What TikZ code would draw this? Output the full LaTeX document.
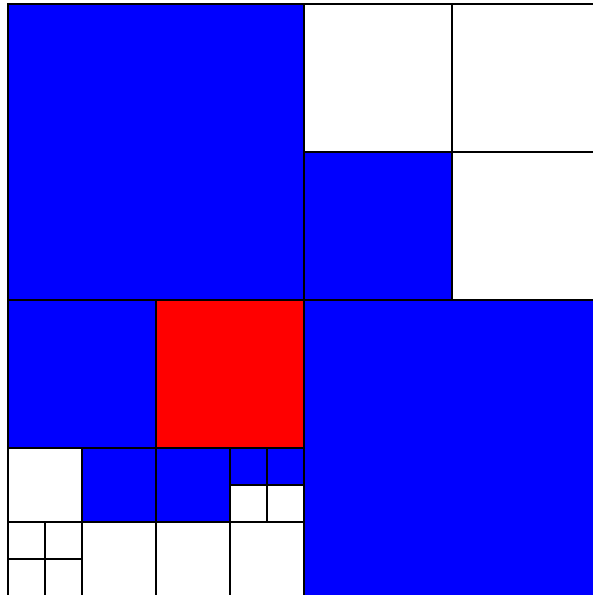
\documentclass[tikz,border=0pt]{standalone}
\usepackage{tikz}
\usepackage{xcolor}
\definecolor{cBlue}{RGB}{0,0,255}
\definecolor{cRed}{RGB}{255,0,0}
\tikzset{
	cell/.style    ={draw=black, line width=0.7pt},
	bluecell/.style={cell, fill=cBlue},
	redcell/.style ={cell, fill=cRed},
	whitecell/.style={cell, fill=white},
}

\begin{document}
\begin{tikzpicture}[x=0.74cm, y=0.74cm]
	\useasboundingbox (-0.108,0.014) rectangle (7.892,8.054);
	% first level
	\draw[bluecell] (0,4) rectangle (4,8);
	\draw[bluecell] (4,0) rectangle (8,4);
	% upper right quadrant
	\foreach \x/\y in {4/6, 6/6, 6/4} \draw[whitecell] (\x,\y) rectangle ++(2,2);
	\draw[bluecell] (4,4) rectangle (6,6);
	% lower left quadrant
	\draw[bluecell] (0,2) rectangle (2,4);
	\draw[redcell] (2,2) rectangle (4,4);
	\foreach \x/\y in {0/1, 1/0, 2/0, 3/0} \draw[whitecell] (\x,\y) rectangle ++(1,1);
	\foreach \x/\y in {1/1, 2/1} \draw[bluecell] (\x,\y) rectangle ++(1,1);
	\foreach \x/\y in {0/0, 0.5/0, 0/0.5, 0.5/0.5, 3/1, 3.5/1} \draw[whitecell] (\x,\y) rectangle ++(0.5,0.5);
	\foreach \x in {3, 3.5} \draw[bluecell] (\x,1.5) rectangle ++(0.5,0.5);
\end{tikzpicture}
\end{document}
